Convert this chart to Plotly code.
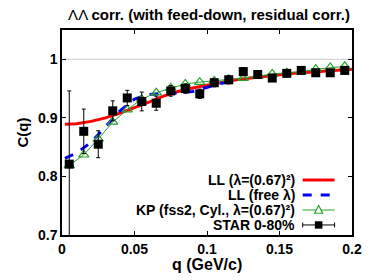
import plotly.graph_objects as go

# STAR data
q_data = [0.005, 0.015, 0.025, 0.035, 0.045, 0.055, 0.065, 0.075, 0.085, 0.095,
          0.105, 0.115, 0.125, 0.135, 0.145, 0.155, 0.165, 0.175, 0.185, 0.195]
c_data = [0.821, 0.877, 0.855, 0.912, 0.934, 0.928, 0.925, 0.946, 0.950, 0.941,
          0.960, 0.965, 0.979, 0.974, 0.968, 0.976, 0.981, 0.977, 0.977, 0.981]
c_err = [0.125, 0.038, 0.023, 0.017, 0.013, 0.016, 0.012, 0.009, 0.008, 0.008,
         0.007, 0.007, 0.007, 0.006, 0.006, 0.006, 0.006, 0.006, 0.006, 0.006]

# KP (fss2, Cyl.) model
c_kp = [0.819, 0.837, 0.864, 0.893, 0.914, 0.932, 0.943, 0.951, 0.958, 0.961,
        0.963, 0.966, 0.968, 0.971, 0.975, 0.977, 0.979, 0.983, 0.986, 0.988]

# LL (lambda=(0.67)^2)
q_ll = [0.002, 0.01, 0.02, 0.03, 0.04, 0.05, 0.06, 0.07, 0.08, 0.09, 0.10,
        0.11, 0.12, 0.13, 0.14, 0.15, 0.16, 0.17, 0.18, 0.19, 0.20]
c_ll = [0.889, 0.890, 0.894, 0.900, 0.908, 0.917, 0.927, 0.937, 0.945, 0.951, 0.956,
        0.961, 0.965, 0.968, 0.971, 0.974, 0.976, 0.978, 0.980, 0.982, 0.983]

# LL (free lambda)
q_llf = [0.002, 0.01, 0.02, 0.03, 0.04, 0.05, 0.06, 0.07, 0.08, 0.09, 0.10, 0.11, 0.12]
c_llf = [0.831, 0.840, 0.858, 0.885, 0.912, 0.932, 0.940, 0.942, 0.942, 0.945, 0.952, 0.959, 0.964]

x_ticks = [0, 0.05, 0.1, 0.15, 0.2]
x_labels = ["0", "0.05", "0.1", "0.15", "0.2"]
y_ticks = [0.7, 0.8, 0.9, 1.0]
y_labels = ["0.7", "0.8", "0.9", "1"]

legend_labels = ["LL (λ=(0.67)²)", "LL (free λ)",
                 "KP (fss2, Cyl., λ=(0.67)²)", "STAR 0-80%"]

RED = "#ff0000"
BLUE = "#0000ff"
GREEN = "#2ca02c"
FONT = "Liberation Sans"

fig = go.Figure()
fig.add_trace(go.Scatter(x=q_ll, y=c_ll, mode="lines",
                         line=dict(color=RED, width=3), showlegend=False))
fig.add_trace(go.Scatter(x=q_llf, y=c_llf, mode="lines",
                         line=dict(color=BLUE, width=3, dash="dash"), showlegend=False))
fig.add_trace(go.Scatter(x=q_data, y=c_kp, mode="lines+markers",
                         line=dict(color=GREEN, width=1),
                         marker=dict(symbol="triangle-up-open", size=9, color=GREEN,
                                     line=dict(width=1.2, color=GREEN)),
                         showlegend=False))
fig.add_trace(go.Scatter(x=q_data, y=c_data, mode="markers",
                         marker=dict(symbol="square", size=9, color="black"),
                         error_y=dict(type="data", array=c_err, color="black",
                                      thickness=1, width=2),
                         showlegend=False))

# reference line at C=1
fig.add_shape(type="line", xref="paper", yref="y", x0=0, x1=1, y0=1, y1=1,
              line=dict(color="#cccccc", width=1), layer="below")

# legend (gnuplot style: text right, sample on the right)
ys = [0.268, 0.195, 0.122, 0.049]
xt = 0.81
xs0, xs1 = 0.83, 0.94
xm = (xs0 + xs1) / 2
for i, lab in enumerate(legend_labels):
    fig.add_annotation(xref="paper", yref="paper", x=xt, y=ys[i], text="<b>" + lab + "</b>",
                       showarrow=False, xanchor="right", yanchor="middle",
                       font=dict(family=FONT, size=14, color="black"))
fig.add_shape(type="line", xref="paper", yref="paper", x0=xs0, x1=xs1, y0=ys[0], y1=ys[0],
              line=dict(color=RED, width=3))
fig.add_shape(type="line", xref="paper", yref="paper", x0=xs0, x1=xs1, y0=ys[1], y1=ys[1],
              line=dict(color=BLUE, width=3, dash="dash"))
fig.add_shape(type="line", xref="paper", yref="paper", x0=xs0, x1=xs1, y0=ys[2], y1=ys[2],
              line=dict(color=GREEN, width=1))
dx, dy = 0.014, 0.02
fig.add_shape(type="path", xref="paper", yref="paper",
              path=f"M {xm-dx},{ys[2]-dy*0.8} L {xm+dx},{ys[2]-dy*0.8} L {xm},{ys[2]+dy*1.1} Z",
              line=dict(color=GREEN, width=1.2), fillcolor="white")
fig.add_shape(type="line", xref="paper", yref="paper", x0=xs0, x1=xs1, y0=ys[3], y1=ys[3],
              line=dict(color="black", width=1))
for xe in (xs0, xs1):
    fig.add_shape(type="line", xref="paper", yref="paper", x0=xe, x1=xe,
                  y0=ys[3]-0.012, y1=ys[3]+0.012, line=dict(color="black", width=1))
fig.add_shape(type="rect", xref="paper", yref="paper", x0=xm-0.013, x1=xm+0.013,
              y0=ys[3]-0.018, y1=ys[3]+0.018, line=dict(color="black", width=0),
              fillcolor="black")

# x-axis title placed like the reference
fig.add_annotation(xref="paper", yref="paper", x=0.5, y=-0.146, text="<b>q (GeV/c)</b>",
                   showarrow=False, xanchor="center", yanchor="middle",
                   font=dict(family=FONT, size=16, color="black"))

axis_common = dict(showline=True, linecolor="black", linewidth=1.5, mirror="ticks",
                   ticks="inside", ticklen=4, tickcolor="black", showgrid=False,
                   zeroline=False,
                   tickfont=dict(family=FONT, size=14, color="black", weight="bold"))

fig.update_layout(
    width=374, height=280,
    margin=dict(l=62, r=18, t=30, b=45),
    paper_bgcolor="white", plot_bgcolor="white",
    title=dict(text="ΛΛ <b>corr. (with feed-down, residual corr.)</b>",
               x=(62 + 356) / 2 / 374, xanchor="center", y=1 - 15 / 280, yanchor="middle",
               font=dict(family=FONT, size=15, color="black")),
    xaxis=dict(range=[0, 0.2], tickvals=x_ticks, ticktext=x_labels, **axis_common),
    yaxis=dict(range=[0.7, 1.05], tickvals=y_ticks, ticktext=y_labels,
               title=dict(text="<b>C(q)</b>", font=dict(family=FONT, size=15, color="black"),
                          standoff=6),
               **axis_common),
)

fig.write_html("out.html", config={"displayModeBar": False},
               post_script="document.body.style.margin='0';document.body.style.padding='0';")
